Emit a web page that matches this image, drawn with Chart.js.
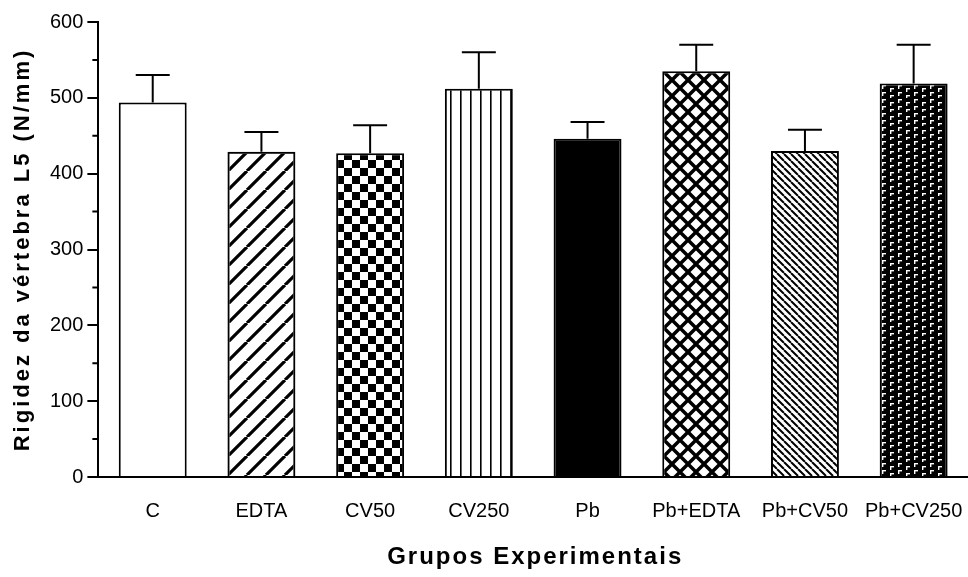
<!DOCTYPE html>
<html lang="pt">
<head>
<meta charset="utf-8">
<title>Rigidez da vértebra L5</title>
<script src="https://cdn.jsdelivr.net/npm/chart.js@4.4.1/dist/chart.umd.min.js"></script>
<style>
  html, body { margin: 0; padding: 0; background: #fff; }
  #wrap { width: 968px; height: 577px; }
</style>
</head>
<body>
<div id="wrap"><canvas id="grafico"></canvas></div>
<script>
// Dados
const grupos = ["C", "EDTA", "CV50", "CV250", "Pb", "Pb+EDTA", "Pb+CV50", "Pb+CV250"];
const rigidez = [494, 429, 427, 512, 446, 535, 430, 519];
const erroSuperior = [530, 455, 464, 560, 468, 570, 458, 570];
const ticksY = [0, 100, 200, 300, 400, 500, 600];
const ticksMenores = [50, 150, 250, 350, 450, 550];
const padroes = ["branco", "diagonal", "xadrez", "vertical", "preto", "grade", "diagonalFina", "cantos"];

const fonte = "'Liberation Sans', Arial, sans-serif";

function criarPadrao(tipo) {
    if (tipo === "branco") return "#ffffff";
    if (tipo === "preto") return "#000000";

    const c = document.createElement("canvas");
    const g = c.getContext("2d");
    let s = 16;

    if (tipo === "diagonal") {
        s = 19;
        c.width = s; c.height = s;
        g.strokeStyle = "#000"; g.lineWidth = 3.2;
        g.beginPath();
        for (const k of [-1, 0, 1]) {
            g.moveTo(k * s, s);
            g.lineTo(k * s + s, 0);
        }
        g.stroke();
    } else if (tipo === "xadrez") {
        c.width = 16; c.height = 16;
        g.fillStyle = "#fff"; g.fillRect(0, 0, 16, 16);
        g.fillStyle = "#000";
        g.fillRect(0, 0, 8, 8);
        g.fillRect(8, 8, 8, 8);
    } else if (tipo === "vertical") {
        c.width = 10; c.height = 10;
        g.fillStyle = "#fff"; g.fillRect(0, 0, 10, 10);
        g.fillStyle = "#000"; g.fillRect(0, 0, 1.6, 10);
    } else if (tipo === "grade") {
        c.width = s; c.height = s;
        g.fillStyle = "#fff"; g.fillRect(0, 0, s, s);
        g.strokeStyle = "#000"; g.lineWidth = 3.5;
        g.beginPath();
        for (const k of [-1, 0, 1]) {
            g.moveTo(k * s, s); g.lineTo(k * s + s, 0);
            g.moveTo(k * s, 0); g.lineTo(k * s + s, s);
        }
        g.stroke();
    } else if (tipo === "diagonalFina") {
        s = 7;
        c.width = s; c.height = s;
        g.fillStyle = "#fff"; g.fillRect(0, 0, s, s);
        g.strokeStyle = "#000"; g.lineWidth = 2;
        g.beginPath();
        for (const k of [-1, 0, 1]) {
            g.moveTo(k * s, 0);
            g.lineTo(k * s + s, s);
        }
        g.stroke();
    } else if (tipo === "cantos") {
        // fundo preto com pequenos cantos brancos, colunas desencontradas
        c.width = 16; c.height = 14;
        g.fillStyle = "#000"; g.fillRect(0, 0, 16, 14);
        g.fillStyle = "#fff";
        for (const [ox, oy] of [[2, 1], [2, 8], [10, 4], [10, 11]]) {
            g.fillRect(ox, oy, 4, 1.4);
            g.fillRect(ox, oy, 1.4, 4);
        }
    }
    return g.createPattern(c, "repeat");
}

// barras de erro (so a parte de cima)
const barrasErro = {
    id: "barrasErro",
    afterDatasetsDraw(chart) {
        const ctx = chart.ctx;
        const y = chart.scales.y;
        chart.getDatasetMeta(0).data.forEach((barra, i) => {
            const topo = y.getPixelForValue(erroSuperior[i]);
            const meia = barra.width / 4;
            ctx.save();
            ctx.strokeStyle = "#000";
            ctx.lineWidth = 2;
            ctx.beginPath();
            ctx.moveTo(barra.x, barra.y);
            ctx.lineTo(barra.x, topo);
            ctx.moveTo(barra.x - meia, topo);
            ctx.lineTo(barra.x + meia, topo);
            ctx.stroke();
            ctx.restore();
        });
    }
};

// marcas menores do eixo y
const marcasMenores = {
    id: "marcasMenores",
    afterDraw(chart) {
        const ctx = chart.ctx;
        const y = chart.scales.y;
        const esq = chart.chartArea.left;
        ctx.save();
        ctx.strokeStyle = "#000";
        ctx.lineWidth = 2;
        ctx.beginPath();
        ticksMenores.forEach(v => {
            const py = y.getPixelForValue(v);
            ctx.moveTo(esq - 6, py);
            ctx.lineTo(esq, py);
        });
        ctx.stroke();
        ctx.restore();
    }
};

// titulos dos eixos com espacamento entre letras
const titulosEixos = {
    id: "titulosEixos",
    afterDraw(chart) {
        const ctx = chart.ctx;
        const area = chart.chartArea;
        ctx.save();
        ctx.fillStyle = "#000";
        ctx.textAlign = "center";
        ctx.textBaseline = "middle";
        ctx.font = "bold 24px " + fonte;
        ctx.letterSpacing = "2px";
        ctx.fillText("Grupos Experimentais", (area.left + area.right) / 2 + 2, chart.height - 20);
        ctx.translate(23, (area.top + area.bottom) / 2);
        ctx.rotate(-Math.PI / 2);
        ctx.font = "bold 22px " + fonte;
        ctx.letterSpacing = "3px";
        ctx.fillText("Rigidez da vértebra L5 (N/mm)", 0, 0);
        ctx.restore();
    }
};

new Chart(document.getElementById("grafico"), {
    type: "bar",
    data: {
        labels: grupos,
        datasets: [{
            data: rigidez,
            backgroundColor: padroes.map(criarPadrao),
            borderColor: "#000",
            borderWidth: 2,
            barPercentage: 0.625,
            categoryPercentage: 1
        }]
    },
    options: {
        responsive: true,
        maintainAspectRatio: false,
        animation: false,
        layout: { padding: { left: 46, top: 22, right: 0, bottom: 52 } },
        plugins: {
            legend: { display: false },
            tooltip: { enabled: false }
        },
        scales: {
            x: {
                grid: {
                    display: true,
                    drawOnChartArea: false,
                    drawTicks: true,
                    tickLength: 20,
                    color: "rgba(0,0,0,0)"
                },
                border: { color: "#000", width: 2 },
                ticks: {
                    color: "#000",
                    font: { family: fonte, size: 20 },
                    padding: 2,
                    maxRotation: 0,
                    autoSkip: false
                }
            },
            y: {
                min: 0,
                max: 600,
                afterBuildTicks: scale => {
                    scale.ticks = ticksY.map(v => ({ value: v }));
                },
                grid: { drawOnChartArea: false, tickLength: 11, color: "#000", lineWidth: 2 },
                border: { color: "#000", width: 2 },
                ticks: {
                    color: "#000",
                    font: { family: fonte, size: 20 },
                    padding: 4
                }
            }
        }
    },
    plugins: [barrasErro, marcasMenores, titulosEixos]
});
</script>
</body>
</html>
